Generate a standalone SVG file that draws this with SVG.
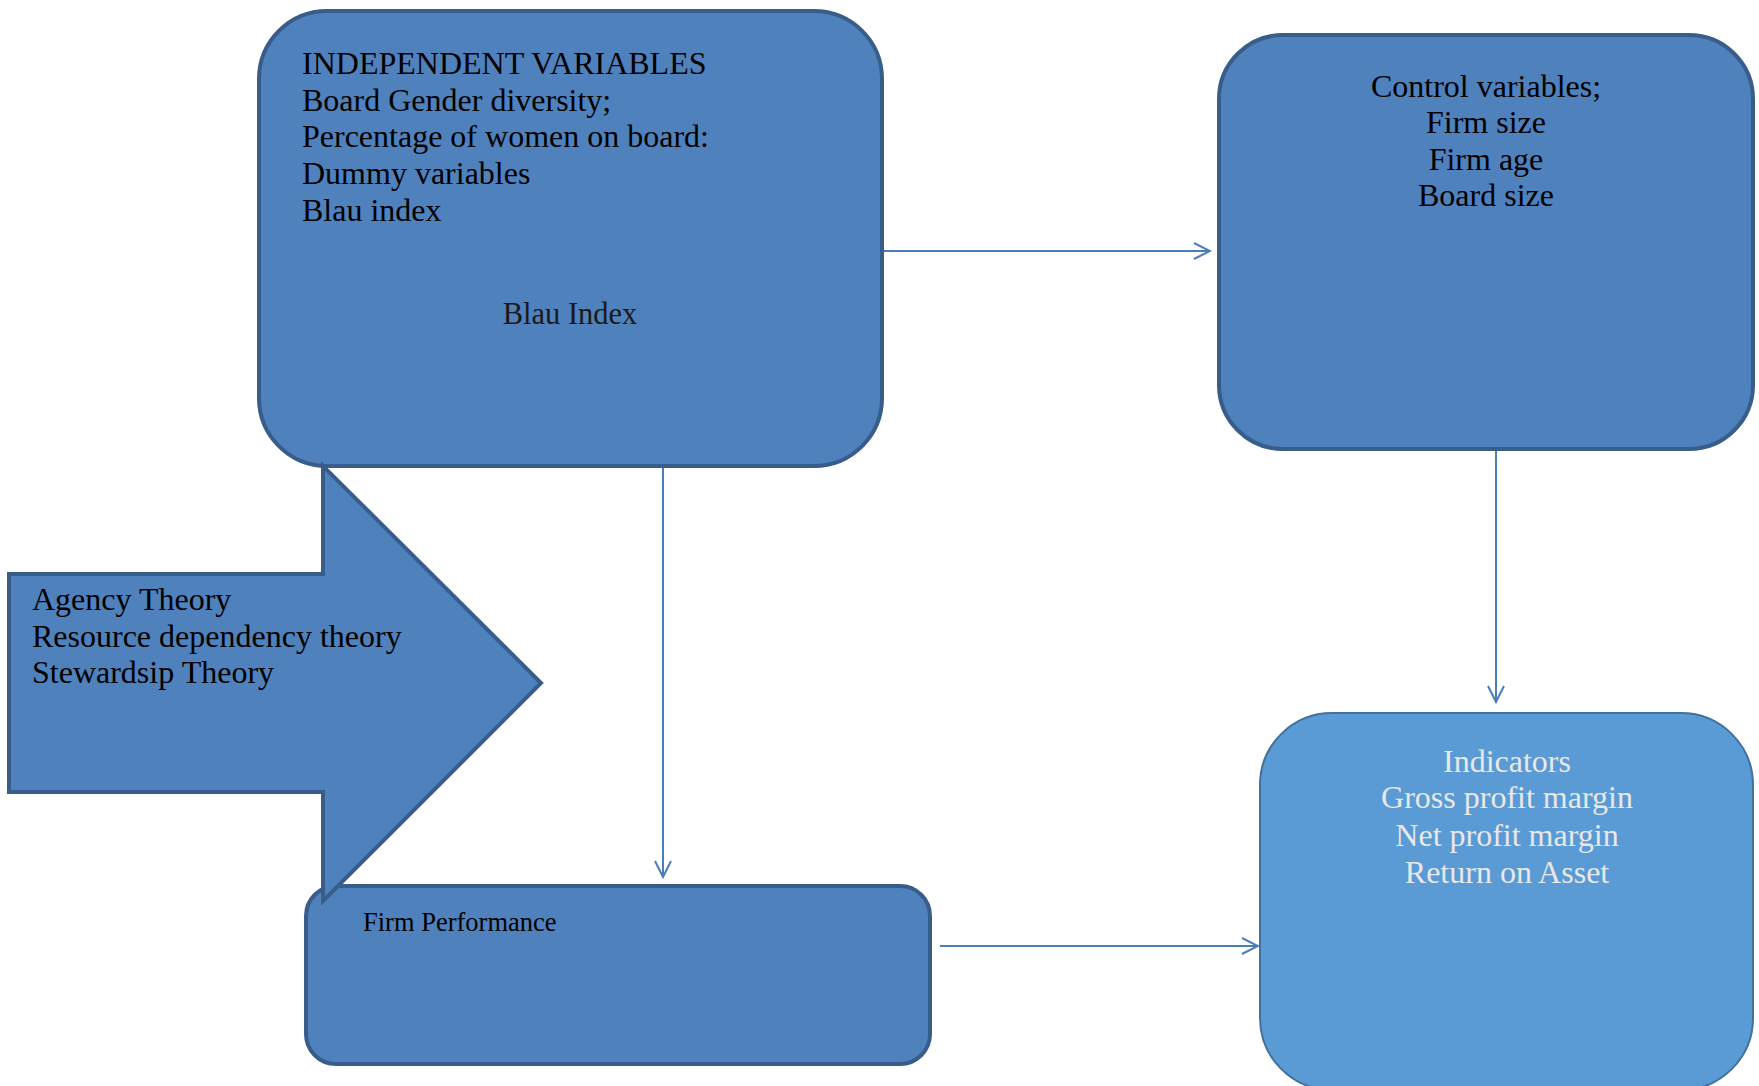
<svg xmlns="http://www.w3.org/2000/svg" width="1759" height="1086" viewBox="0 0 1759 1086">
<style>
.box{fill:#4F81BD;stroke:#385D8A;stroke-width:4}
.box5{fill:#5B9BD5;stroke:#41719C;stroke-width:2}
.t{font-family:"Liberation Serif","Times New Roman",serif;font-size:32px;fill:#000}
.tl{font-family:"Liberation Serif","Times New Roman",serif;font-size:32px;fill:#E8E8E8}
.small{font-family:"Liberation Serif","Times New Roman",serif;font-size:26.5px;fill:#000}
.blau{font-family:"Liberation Serif","Times New Roman",serif;font-size:30.5px;fill:#1a1a1a}
.c{text-anchor:middle}
.conn{fill:none;stroke:#4A7EBB;stroke-width:2}
</style>
<defs>
<marker id="open" viewBox="0 0 20 20" refX="18" refY="10" markerWidth="20" markerHeight="20" markerUnits="userSpaceOnUse" orient="auto">
<path d="M2,2 L18,10 L2,18" fill="none" stroke="#4A7EBB" stroke-width="2"/>
</marker>
</defs>
<g id="independent">
<rect class="box" x="259" y="11" width="623" height="455" rx="68"/>
<text class="t" x="302" y="74">INDEPENDENT VARIABLES</text>
<text class="t" x="302" y="111">Board Gender diversity;</text>
<text class="t" x="302" y="147">Percentage of women on board:</text>
<text class="t" x="302" y="184">Dummy variables</text>
<text class="t" x="302" y="221">Blau index</text>
<text class="blau c" x="570" y="324">Blau Index</text>
</g>
<g id="control">
<rect class="box" x="1219" y="35" width="534" height="414" rx="64"/>
<text class="t c" x="1486" y="97">Control variables;</text>
<text class="t c" x="1486" y="133">Firm size</text>
<text class="t c" x="1486" y="170">Firm age</text>
<text class="t c" x="1486" y="206">Board size</text>
</g>
<g id="performance">
<rect class="box" x="306" y="886" width="624" height="178" rx="30"/>
<text class="small" x="363" y="931">Firm Performance</text>
</g>
<g id="indicators">
<rect class="box5" x="1260" y="713" width="493" height="377" rx="72"/>
<text class="tl c" x="1507" y="772">Indicators</text>
<text class="tl c" x="1507" y="808">Gross profit margin</text>
<text class="tl c" x="1507" y="846">Net profit margin</text>
<text class="tl c" x="1507" y="883">Return on Asset</text>
</g>
<g id="theories">
<path class="box" d="M9,574 L323,574 L323,466 L541,683 L323,901 L323,792 L9,792 Z"/>
<text class="t" x="32" y="610">Agency Theory</text>
<text class="t" x="32" y="647">Resource dependency theory</text>
<text class="t" x="32" y="683">Stewardsip Theory</text>
</g>
<g id="connectors">
<line class="conn" x1="884" y1="251" x2="1210" y2="251" marker-end="url(#open)"/>
<line class="conn" x1="663" y1="468" x2="663" y2="877" marker-end="url(#open)"/>
<line class="conn" x1="1496" y1="451" x2="1496" y2="702" marker-end="url(#open)"/>
<line class="conn" x1="940" y1="946" x2="1258" y2="946" marker-end="url(#open)"/>
</g>
</svg>
